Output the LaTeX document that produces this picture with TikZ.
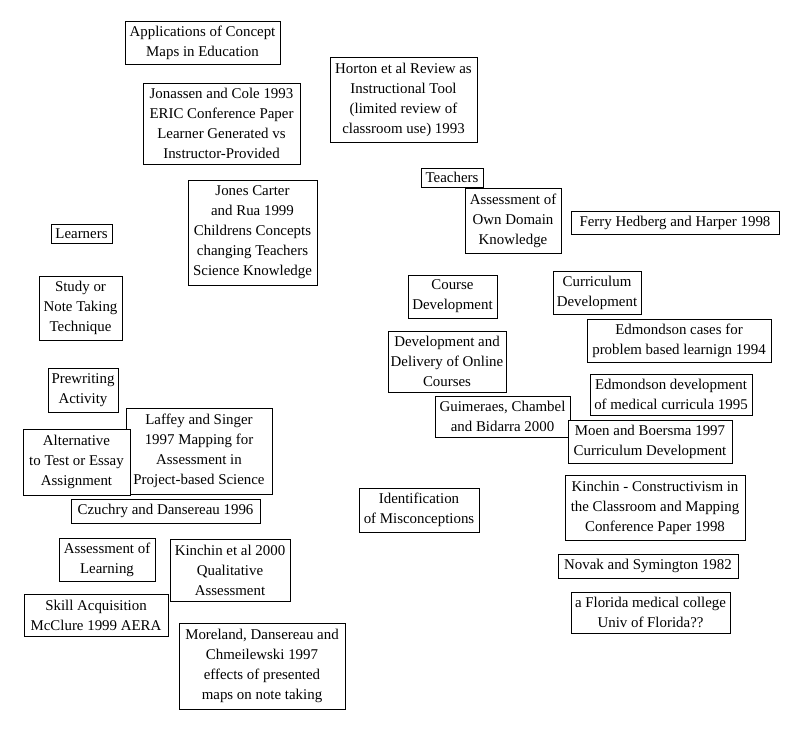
\documentclass[tikz,border=0pt]{standalone}
\usepackage{fontspec}
\setmainfont{Liberation Serif}
\tikzset{
  box/.style={draw=black, fill=white, line width=0.9pt, inner sep=0pt, align=center,
    font=\fontsize{14.9}{20}\selectfont}
}
% #1 name, #2 left, #3 top, #4 right, #5 bottom, #6 text
\newcommand\bx[6]{\node[box, minimum width={(#4-#2)*1pt}, minimum height={(#5-#3)*1pt}]
  (#1) at ({(#2+#4)/2},{(#3+#5)/2}) {#6};}
\begin{document}
\begin{tikzpicture}[x=1pt,y=-1pt]
\useasboundingbox (0,0) rectangle (802,729);
\bx{apps}{125}{21}{280}{64}{Applications of Concept\\Maps in Education}
\bx{jonassen}{143}{83}{300}{164}{Jonassen and Cole 1993\\ERIC Conference Paper\\Learner Generated vs\\Instructor-Provided}
\bx{horton}{330}{57}{477}{142}{Horton et al Review as\\Instructional Tool\\(limited review of\\classroom use) 1993}
\bx{jones}{188}{180}{317}{285}{Jones Carter\\and Rua 1999\\Childrens Concepts\\changing Teachers\\Science Knowledge}
\bx{learners}{51}{224}{112}{243}{Learners}
\bx{study}{39}{276}{122}{340}{Study or\\Note Taking\\Technique}
\bx{teachers}{421}{168}{483}{187}{Teachers}
\bx{owndomain}{465}{188}{561}{253}{Assessment of\\Own Domain\\Knowledge}
\bx{ferry}{571}{211}{779}{234}{Ferry Hedberg and Harper 1998}
\bx{course}{408}{275}{497}{318}{Course\\Development}
\bx{curric}{553}{271}{641}{314}{Curriculum\\Development}
\bx{edcases}{587}{319}{771}{362}{Edmondson cases for\\problem based learnign 1994}
\bx{online}{388}{331}{506}{392}{Development and\\Delivery of Online\\Courses}
\bx{eddev}{590}{374}{752}{415}{Edmondson development\\of medical curricula 1995}
\bx{guim}{435}{396}{570}{437}{Guimeraes, Chambel\\and Bidarra 2000}
\bx{moen}{568}{420}{732}{463}{Moen and Boersma 1997\\Curriculum Development}
\bx{ident}{359}{488}{479}{532}{Identification\\of Misconceptions}
\bx{kinconst}{565}{475}{745}{540}{Kinchin - Constructivism in\\the Classroom and Mapping\\Conference Paper 1998}
\bx{novak}{558}{554}{738}{578}{Novak and Symington 1982}
\bx{florida}{571}{592}{730}{633}{a Florida medical college\\Univ of Florida??}
\bx{prewrite}{48}{368}{118}{412}{Prewriting\\Activity}
\bx{laffey}{126}{408}{272}{494}{Laffey and Singer\\1997 Mapping for\\Assessment in\\Project-based Science}
\bx{altern}{23}{429}{130}{495}{Alternative\\to Test or Essay\\Assignment}
\bx{czuchry}{71}{499}{260}{523}{Czuchry and Dansereau 1996}
\bx{asslearn}{59}{538}{155}{581}{Assessment of\\Learning}
\bx{kin2000}{170}{539}{290}{601}{Kinchin et al 2000\\Qualitative\\Assessment}
\bx{skill}{24}{594}{168}{636}{Skill Acquisition\\McClure 1999 AERA}
\bx{moreland}{179}{623}{345}{709}{Moreland, Dansereau and\\Chmeilewski 1997\\effects of presented\\maps on note taking}
\end{tikzpicture}
\end{document}
